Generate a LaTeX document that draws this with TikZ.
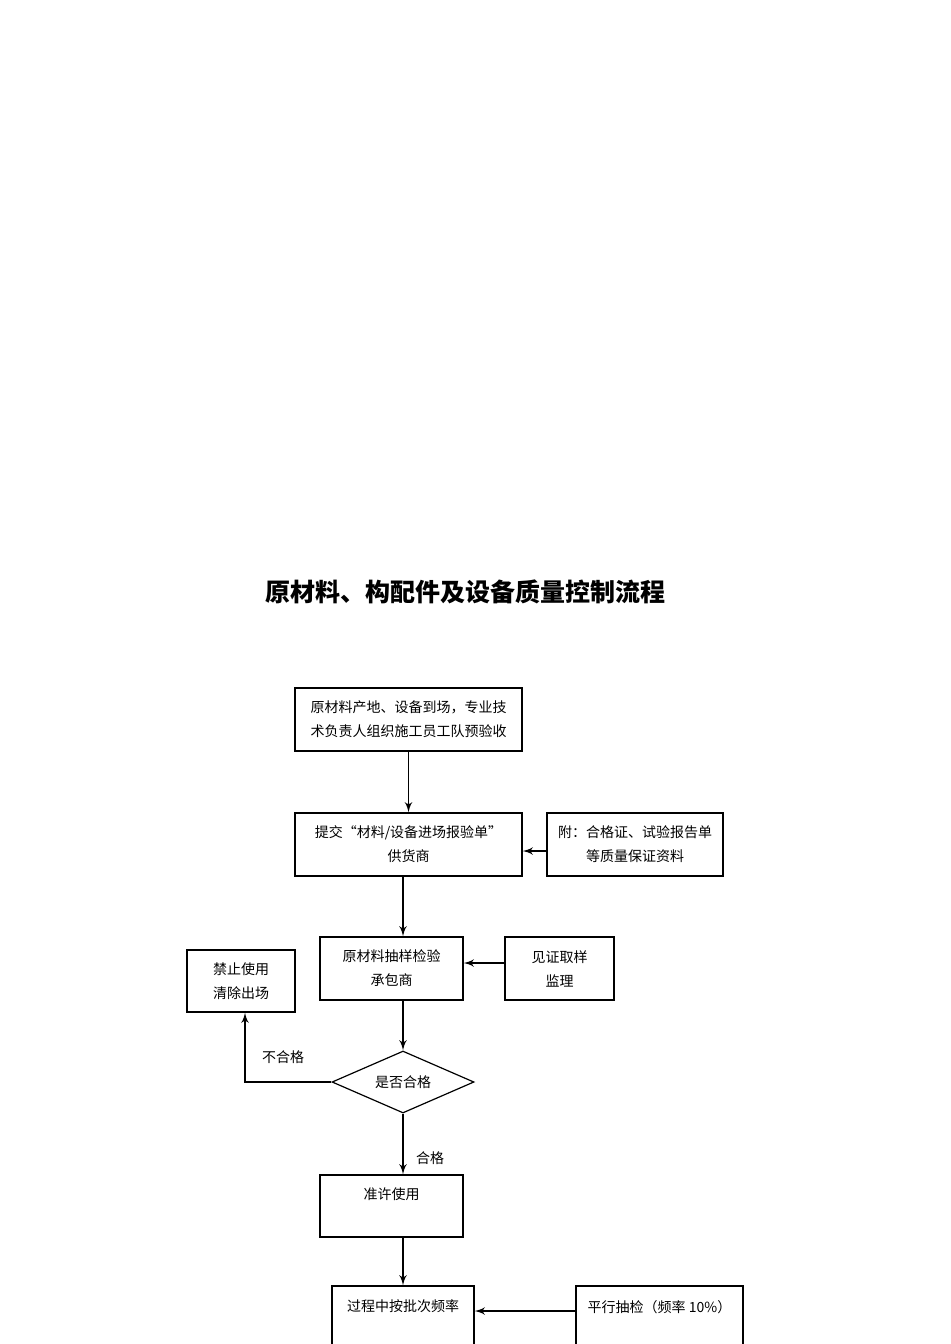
\documentclass[tikz,border=0pt]{standalone}
\usepackage{fontspec}
\setmainfont{Noto Sans CJK SC}
\usetikzlibrary{shapes,arrows}
\tikzstyle{block} = [rectangle, draw, semithick, align=center, inner sep=0pt, font=\fontsize{7pt}{12pt}\selectfont]
\tikzstyle{decision} = [diamond, draw, semithick, aspect=2.3, inner sep=0pt, font=\fontsize{7pt}{9pt}\selectfont]
\tikzstyle{line} = [draw, thick, -latex']
\begin{document}
\begin{tikzpicture}[x=0.5pt, y=-0.5pt]
    \useasboundingbox (0,0) rectangle (950,1344);
    \node [font=\bfseries\fontsize{12.5pt}{14pt}\selectfont] (title) at (465,592) {原材料、构配件及设备质量控制流程};
    \node [block, minimum width=113.5pt, minimum height=31.5pt] (arrive) at (408.5,719.5) {原材料产地、设备到场，专业技\\术负责人组织施工员工队预验收};
    \node [block, minimum width=113.5pt, minimum height=31.5pt] (submit) at (408.5,844.5) {提交“材料/设备进场报验单”\\供货商};
    \node [block, minimum width=88pt, minimum height=31.5pt] (attach) at (635,844.5) {附：合格证、试验报告单\\等质量保证资料};
    \node [block, minimum width=71.5pt, minimum height=31.5pt] (sample) at (391.5,968.5) {原材料抽样检验\\承包商};
    \node [block, minimum width=54.5pt, minimum height=31.5pt] (witness) at (559.5,968.5) {见证取样\\监理};
    \node [block, minimum width=54pt, minimum height=31pt] (ban) at (241,981) {禁止使用\\清除出场};
    \node [decision, minimum width=71pt, minimum height=31pt] (check) at (403,1082) {是否合格};
    \node [block, minimum width=71.5pt, minimum height=31pt] (allow) at (391.5,1206) {准许使用\\\mbox{}};
    \node [block, minimum width=71pt, minimum height=32pt] (batch) at (403,1318) {过程中按批次频率\\\mbox{}};
    \node [block, minimum width=83.5pt, minimum height=32pt] (parallel) at (659.5,1318) {平行抽检（频率 10\%）\\\mbox{}};
    \coordinate (turn) at (245,1082);
    \path [line] (arrive) -- (submit);
    \path [line] (submit.south -| 403,0) -- (sample.north -| 403,0);
    \path [line] (attach.west |- 0,851) -- (submit.east |- 0,851);
    \path [line] (witness.west |- 0,963) -- (sample.east |- 0,963);
    \path [line] (sample.south -| 403,0) -- (check);
    \path [line] (check.west) -- (turn) -- (ban.south -| turn);
    \node [font=\fontsize{7pt}{9pt}\selectfont] (fail) at (283,1057) {不合格};
    \path [line] (check) -- (allow.north -| 403,0);
    \node [font=\fontsize{7pt}{9pt}\selectfont] (pass) at (430,1158) {合格};
    \path [line] (allow.south -| 403,0) -- (batch);
    \path [line] (parallel.west |- 0,1311) -- (batch.east |- 0,1311);
\end{tikzpicture}
\end{document}
